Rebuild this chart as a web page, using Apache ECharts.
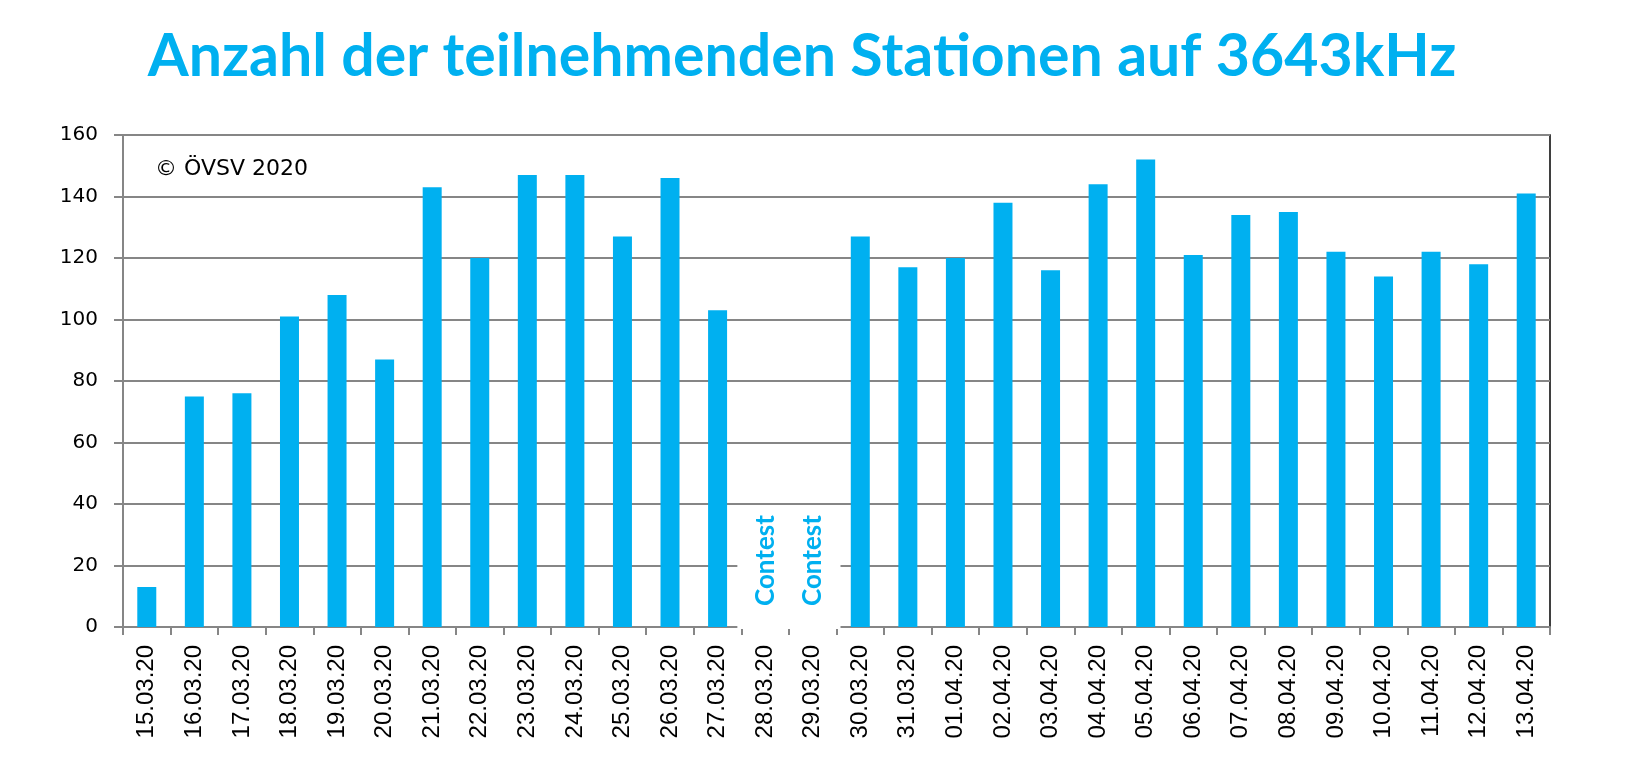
<!DOCTYPE html>
<html>
<head>
<meta charset="utf-8">
<script src="https://cdn.jsdelivr.net/npm/echarts@6/dist/echarts.min.js"></script>
<style>
html,body{margin:0;padding:0;background:#fff;}
#chart{width:1625px;height:764px;}
</style>
</head>
<body>
<div id="chart"></div>
<script>
const categories = ['15.03.20','16.03.20','17.03.20','18.03.20','19.03.20','20.03.20','21.03.20','22.03.20','23.03.20','24.03.20','25.03.20','26.03.20','27.03.20','28.03.20','29.03.20','30.03.20','31.03.20','01.04.20','02.04.20','03.04.20','04.04.20','05.04.20','06.04.20','07.04.20','08.04.20','09.04.20','10.04.20','11.04.20','12.04.20','13.04.20'];
const stations = [13,75,76,101,108,87,143,120,147,147,127,146,103,null,null,127,117,120,138,116,144,152,121,134,135,122,114,122,118,141];
const contestDays = ['28.03.20','29.03.20'];
const contestLabel = 'Contest';
const yTicks = [0,20,40,60,80,100,120,140,160];
const titleText = 'Anzahl der teilnehmenden Stationen auf 3643kHz';
const copyrightText = '\u00A9 \u00D6VSV 2020';

const BLUE = '#00B0F0';
const chart = echarts.init(document.getElementById('chart'), null, {renderer:'canvas'});
chart.setOption({
  animation:false,
  backgroundColor:'#fff',
  title:[
    {text:titleText, left:797, top:22, textAlign:'center',
     textStyle:{fontFamily:'Lato', fontWeight:'bold', fontSize:59, color:BLUE}},
    {text:copyrightText, left:150, top:153,
     textStyle:{fontFamily:'DejaVu Sans', fontWeight:'normal', fontSize:22, color:'#000'}}
  ],
  grid:{left:123, right:75, top:135, bottom:137, show:true, borderColor:'#000', borderWidth:1.5, backgroundColor:'transparent'},
  xAxis:{
    type:'category', data:categories,
    axisLine:{lineStyle:{color:'#868686', width:2}},
    axisTick:{show:true, length:8, lineStyle:{color:'#868686', width:2}},
    axisLabel:{rotate:90, margin:18, fontFamily:'Liberation Sans', fontSize:24, color:'#000', interval:0}
  },
  yAxis:{
    type:'value', min:yTicks[0], max:yTicks[yTicks.length-1], interval:20,
    axisLine:{show:true, lineStyle:{color:'#868686', width:2}},
    axisTick:{show:true, length:9, lineStyle:{color:'#868686', width:2}},
    splitLine:{show:true, lineStyle:{color:'#868686', width:2}},
    axisLabel:{margin:25, fontFamily:'DejaVu Sans', fontSize:20, color:'#000'}
  },
  series:[
    {type:'bar', data:stations, barWidth:19, itemStyle:{color:BLUE}, z:3},
    {type:'custom', z:5,
     data: contestDays.map(d => [categories.indexOf(d), 0]),
     renderItem:function(params, api){
       const idx = api.value(0);
       const base = api.coord([idx, 0]);
       const top = api.coord([idx, 37]);
       const mid = api.coord([idx, 21.6]);
       const band = api.size([1,0])[0];
       return {type:'group', children:[
         {type:'rect', shape:{x:base[0]-band/2-4, y:top[1], width:band+8, height:base[1]-top[1]+2},
          style:{fill:'#fff'}},
         {type:'text', x:mid[0], y:mid[1], rotation:Math.PI/2,
          style:{text:contestLabel, fill:BLUE, font:'bold 26px Lato', align:'center', verticalAlign:'middle'}}
       ]};
     }
    }
  ]
});
</script>
</body>
</html>
